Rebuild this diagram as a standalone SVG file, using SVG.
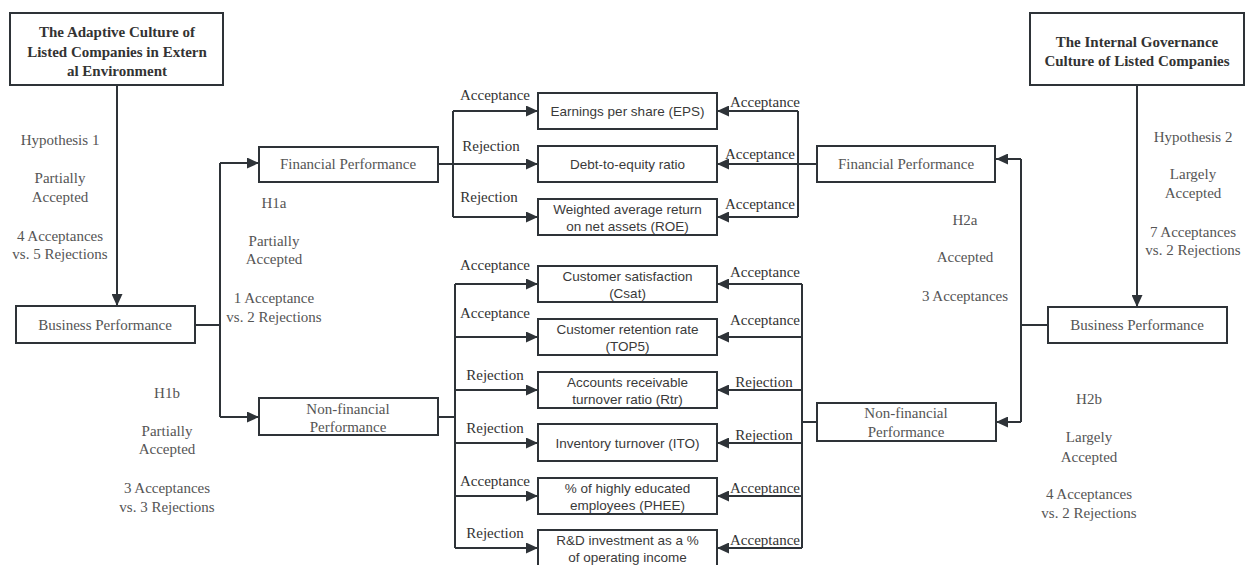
<svg xmlns="http://www.w3.org/2000/svg" width="1245" height="565" viewBox="0 0 1245 565">
<defs>
<style>
.box{fill:#fff;stroke:#2e3338;stroke-width:2}
.ln{fill:none;stroke:#2e3338;stroke-width:2}
.arr{marker-end:url(#ah)}
.t{font-family:"Liberation Serif","Times New Roman",serif;font-size:15px;fill:#555;text-anchor:middle}
.tb{font-family:"Liberation Serif","Times New Roman",serif;font-size:15px;font-weight:bold;fill:#333;text-anchor:middle}
.e{font-family:"Liberation Serif","Times New Roman",serif;font-size:15px;fill:#333;text-anchor:middle}
.s{font-family:"Liberation Sans",Arial,sans-serif;font-size:13.5px;fill:#3a3a3a;text-anchor:middle}
</style>
<marker id="ah" markerUnits="userSpaceOnUse" markerWidth="13" markerHeight="11" refX="12" refY="5.5" orient="auto">
<path d="M0,0 L12,5.5 L0,11 Z" fill="#2e3338"/>
</marker>
</defs>
<rect width="1245" height="565" fill="#fff"/>

<g id="connectors">
<path class="ln arr" d="M117,85 V306"/>
<path class="ln" d="M195,325 H220 M220,163 V417"/>
<path class="ln arr" d="M220,163 H259"/>
<path class="ln arr" d="M220,417 H259"/>
<path class="ln arr" d="M438,164 H538"/>
<path class="ln" d="M453,111 V217"/>
<path class="ln arr" d="M453,111 H538"/>
<path class="ln arr" d="M453,217 H538"/>
<path class="ln" d="M438,417 H455 M455,284 V548"/>
<path class="ln arr" d="M455,284 H538"/>
<path class="ln arr" d="M455,337 H538"/>
<path class="ln arr" d="M455,390 H538"/>
<path class="ln arr" d="M455,443 H538"/>
<path class="ln arr" d="M455,496 H538"/>
<path class="ln arr" d="M455,548 H538"/>
<path class="ln arr" d="M817,164 H717"/>
<path class="ln" d="M798,111 V217"/>
<path class="ln arr" d="M798,111 H717"/>
<path class="ln arr" d="M798,217 H717"/>
<path class="ln" d="M817,422 H802 M802,284 V548"/>
<path class="ln arr" d="M802,284 H717"/>
<path class="ln arr" d="M802,337 H717"/>
<path class="ln arr" d="M802,390 H717"/>
<path class="ln arr" d="M802,443 H717"/>
<path class="ln arr" d="M802,496 H717"/>
<path class="ln arr" d="M802,548 H717"/>
<path class="ln arr" d="M1137,85 V307"/>
<path class="ln" d="M1048,325 H1021 M1021,159 V422"/>
<path class="ln arr" d="M1021,159 H996"/>
<path class="ln arr" d="M1021,422 H996"/>

<text class="e" x="495" y="100">Acceptance</text>
<text class="e" x="491" y="151">Rejection</text>
<text class="e" x="489" y="202">Rejection</text>
<text class="e" x="765" y="107">Acceptance</text>
<text class="e" x="760" y="159">Acceptance</text>
<text class="e" x="760" y="209">Acceptance</text>
<text class="e" x="495" y="270">Acceptance</text>
<text class="e" x="495" y="318">Acceptance</text>
<text class="e" x="495" y="380">Rejection</text>
<text class="e" x="495" y="433">Rejection</text>
<text class="e" x="495" y="486">Acceptance</text>
<text class="e" x="495" y="538">Rejection</text>
<text class="e" x="765" y="277">Acceptance</text>
<text class="e" x="765" y="325">Acceptance</text>
<text class="e" x="764" y="387">Rejection</text>
<text class="e" x="764" y="440">Rejection</text>
<text class="e" x="765" y="493">Acceptance</text>
<text class="e" x="765" y="545">Acceptance</text>
</g>

<g id="hyp1-text">
<text class="t" x="60" y="145">Hypothesis 1</text>
<text class="t" x="60" y="183">Partially</text>
<text class="t" x="60" y="202">Accepted</text>
<text class="t" x="60" y="241">4 Acceptances</text>
<text class="t" x="60" y="259">vs. 5 Rejections</text>
</g>
<g id="h1a-text">
<text class="t" x="274" y="208">H1a</text>
<text class="t" x="274" y="246">Partially</text>
<text class="t" x="274" y="264">Accepted</text>
<text class="t" x="274" y="303">1 Acceptance</text>
<text class="t" x="274" y="322">vs. 2 Rejections</text>
</g>
<g id="h1b-text">
<text class="t" x="167" y="398">H1b</text>
<text class="t" x="167" y="436">Partially</text>
<text class="t" x="167" y="454">Accepted</text>
<text class="t" x="167" y="493">3 Acceptances</text>
<text class="t" x="167" y="512">vs. 3 Rejections</text>
</g>
<g id="hyp2-text">
<text class="t" x="1193" y="142">Hypothesis 2</text>
<text class="t" x="1193" y="179">Largely</text>
<text class="t" x="1193" y="198">Accepted</text>
<text class="t" x="1193" y="237">7 Acceptances</text>
<text class="t" x="1193" y="255">vs. 2 Rejections</text>
</g>
<g id="h2a-text">
<text class="t" x="965" y="225">H2a</text>
<text class="t" x="965" y="262">Accepted</text>
<text class="t" x="965" y="301">3 Acceptances</text>
</g>
<g id="h2b-text">
<text class="t" x="1089" y="404">H2b</text>
<text class="t" x="1089" y="442">Largely</text>
<text class="t" x="1089" y="462">Accepted</text>
<text class="t" x="1089" y="499">4 Acceptances</text>
<text class="t" x="1089" y="518">vs. 2 Rejections</text>
</g>

<g id="adaptive-culture">
<rect class="box" x="10" y="13" width="213" height="72"/>
<text class="tb" x="117" y="37">The Adaptive Culture of</text>
<text class="tb" x="117" y="57">Listed Companies in Extern</text>
<text class="tb" x="117" y="76">al Environment</text>
</g>
<g id="internal-governance">
<rect class="box" x="1030" y="13" width="214" height="72"/>
<text class="tb" x="1137" y="47">The Internal Governance</text>
<text class="tb" x="1137" y="66">Culture of Listed Companies</text>
</g>
<g id="business-left">
<rect class="box" x="16" y="306" width="179" height="37"/>
<text class="t" x="105" y="330">Business Performance</text>
</g>
<g id="business-right">
<rect class="box" x="1048" y="307" width="179" height="36"/>
<text class="t" x="1137" y="330">Business Performance</text>
</g>
<g id="financial-left">
<rect class="box" x="259" y="147" width="179" height="35"/>
<text class="t" x="348" y="169">Financial Performance</text>
</g>
<g id="financial-right">
<rect class="box" x="817" y="146" width="178" height="36"/>
<text class="t" x="906" y="169">Financial Performance</text>
</g>
<g id="nonfinancial-left">
<rect class="box" x="259" y="398" width="179" height="37"/>
<text class="t" x="348" y="414">Non-financial</text>
<text class="t" x="348" y="432">Performance</text>
</g>
<g id="nonfinancial-right">
<rect class="box" x="817" y="403" width="179" height="38"/>
<text class="t" x="906" y="418">Non-financial</text>
<text class="t" x="906" y="437">Performance</text>
</g>

<g id="eps">
<rect class="box" x="538" y="93" width="179" height="36"/>
<text class="s" x="627.5" y="116">Earnings per share (EPS)</text>
</g>
<g id="debt">
<rect class="box" x="538" y="146" width="179" height="36"/>
<text class="s" x="627.5" y="169">Debt-to-equity ratio</text>
</g>
<g id="roe">
<rect class="box" x="538" y="199" width="179" height="36"/>
<text class="s" x="627.5" y="214">Weighted average return</text>
<text class="s" x="627.5" y="231">on net assets (ROE)</text>
</g>
<g id="csat">
<rect class="box" x="538" y="266" width="179" height="36"/>
<text class="s" x="627.5" y="281">Customer satisfaction</text>
<text class="s" x="627.5" y="298">(Csat)</text>
</g>
<g id="top5">
<rect class="box" x="538" y="319" width="179" height="36"/>
<text class="s" x="627.5" y="334">Customer retention rate</text>
<text class="s" x="627.5" y="351">(TOP5)</text>
</g>
<g id="rtr">
<rect class="box" x="538" y="372" width="179" height="36"/>
<text class="s" x="627.5" y="387">Accounts receivable</text>
<text class="s" x="627.5" y="404">turnover ratio (Rtr)</text>
</g>
<g id="ito">
<rect class="box" x="538" y="424" width="179" height="37"/>
<text class="s" x="627.5" y="448">Inventory turnover (ITO)</text>
</g>
<g id="phee">
<rect class="box" x="538" y="478" width="179" height="36"/>
<text class="s" x="627.5" y="493">% of highly educated</text>
<text class="s" x="627.5" y="510">employees (PHEE)</text>
</g>
<g id="rnd">
<rect class="box" x="538" y="530" width="179" height="37"/>
<text class="s" x="627.5" y="545">R&amp;D investment as a %</text>
<text class="s" x="627.5" y="562">of operating income</text>
</g>
</svg>
